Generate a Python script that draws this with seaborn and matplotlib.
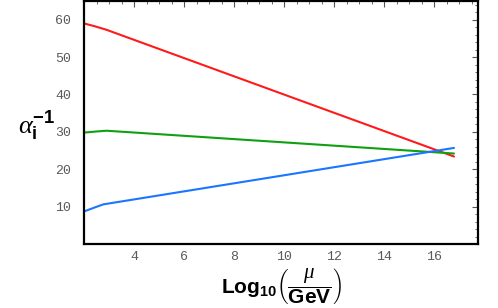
import matplotlib
matplotlib.use("Agg")
import matplotlib.pyplot as plt
import seaborn as sns
import pandas as pd
from matplotlib.ticker import MultipleLocator

sns.set_theme(style="white")
plt.rcParams['font.family'] = ['DejaVu Sans']
plt.rcParams['mathtext.fontset'] = 'custom'
plt.rcParams['mathtext.rm'] = 'Liberation Sans'
plt.rcParams['mathtext.bf'] = 'Liberation Sans:bold'
plt.rcParams['mathtext.it'] = 'Liberation Serif:italic'
plt.rcParams['text.color'] = 'black'

# Data
red_x = [2.0, 2.4, 2.9, 16.8]
red_y = [59.0, 58.3, 57.3, 23.4]
green_x = [2.0, 2.5, 2.9, 16.8]
green_y = [29.8, 30.1, 30.3, 24.2]
blue_x = [2.0, 2.4, 2.77, 16.8]
blue_y = [8.7, 9.7, 10.6, 25.7]

frames = []
for name, xs, ys in [("red", red_x, red_y), ("green", green_x, green_y), ("blue", blue_x, blue_y)]:
    frames.append(pd.DataFrame({"x": xs, "y": ys, "series": name}))
df = pd.concat(frames, ignore_index=True)

palette = {"red": "#ff1a1a", "green": "#10a010", "blue": "#1a75ff"}

fig = plt.figure(figsize=(4.98, 3.08), dpi=100)
ax = fig.add_axes([84/498, 1-244/308, (478-84)/498, (244-1)/308])
sns.lineplot(data=df, x="x", y="y", hue="series", palette=palette, ax=ax,
             legend=False, linewidth=1.5, sort=False)

ax.set_xlim(2, 17.76)
ax.set_ylim(0, 65)
ax.set_xticks([4, 6, 8, 10, 12, 14, 16])
ax.set_yticks([10, 20, 30, 40, 50, 60])
ax.xaxis.set_minor_locator(MultipleLocator(0.5))
ax.yaxis.set_minor_locator(MultipleLocator(2))
ax.tick_params(which='both', direction='in', top=True, right=True,
               labeltop=False, labelright=False, color='#555555')
ax.tick_params(which='major', length=4, width=0.8)
ax.tick_params(axis='x', which='major', pad=5)
ax.tick_params(axis='y', which='major', pad=9)
ax.tick_params(which='minor', length=2, width=0.6)
for lab in ax.get_xticklabels() + ax.get_yticklabels():
    lab.set_family('Liberation Mono')
    lab.set_fontsize(9.5)
    lab.set_color('#5a5a5a')
for s in ax.spines.values():
    s.set_visible(True)
    s.set_color('black')
    s.set_linewidth(1.6)
ax.set_xlabel("")
ax.set_ylabel("")

fig.text(37/498, 1-125/308, r'$\alpha_{\mathbf{i}}^{\mathbf{-1}}$', fontsize=19,
         ha='center', va='center')
fig.text(281/498, 1-286/308,
         r'$\mathbf{Log}_{\mathbf{10}}\left(\dfrac{\mu}{\mathbf{GeV}}\right)$',
         fontsize=15, ha='center', va='center')

fig.savefig("out.png", dpi=100)
